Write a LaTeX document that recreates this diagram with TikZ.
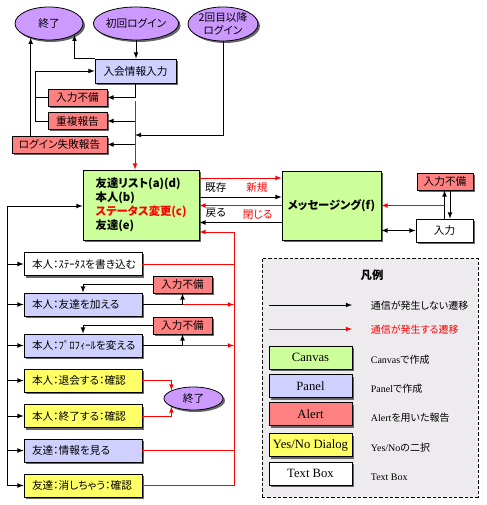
\documentclass[tikz,border=0pt]{standalone}
\usepackage{fontspec}
\setmainfont{Noto Sans CJK JP}[RawFeature=+palt]
\newfontfamily\tms{Liberation Serif}
\usetikzlibrary{shapes.geometric,shadows}
\definecolor{canvasgreen}{HTML}{CCFF99}
\definecolor{panelblue}{HTML}{D0D0FF}
\definecolor{alertred}{HTML}{FF8080}
\definecolor{dialogyellow}{HTML}{FFFF66}
\definecolor{endpurple}{HTML}{CC99FF}
\definecolor{legendgray}{HTML}{EEEBEE}
\begin{document}
\begin{tikzpicture}[x=0.75pt,y=-0.75pt,line width=0.6pt,
    font=\fontsize{8}{9.5}\selectfont,
    shadowed/.style={drop shadow={shadow xshift=1.5pt,shadow yshift=-1.5pt,fill=black!60,opacity=1}},
    basebox/.style={draw,shadowed,inner sep=0pt,minimum height=12.75pt},
    endstate/.style={ellipse,draw,fill=endpurple,shadowed,inner sep=0pt},
    canvas/.style={basebox,fill=canvasgreen},
    panel/.style={basebox,fill=panelblue},
    alert/.style={basebox,fill=alertred},
    dialog/.style={basebox,fill=dialogyellow},
    textbox/.style={basebox,fill=white},
    listbox/.style={minimum height=17.25pt,text width=76.5pt,inner xsep=6pt,align=left},
    legbox/.style={minimum width=62.25pt,minimum height=17.25pt,font=\tms\fontsize{9.5}{10}\selectfont},
    leglabel/.style={anchor=west,font=\fontsize{7.5}{8.5}\selectfont}]
    \tikzset{>=latex}
    \useasboundingbox (0,0) rectangle (486,505);

    \node[endstate,minimum width=51pt,minimum height=24.75pt] (end1) at (49,23.5) {終了};
    \node[endstate,minimum width=54pt,minimum height=24.75pt] (login1) at (136,23.5) {初回ログイン};
    \node[endstate,minimum width=52.5pt,minimum height=25.5pt,align=center] (login2) at (223,24) {2回目以降\\ログイン};
    \node[panel,minimum width=60.75pt,minimum height=18pt] (nyukai) at (135.5,71) {入会情報入力};
    \node[alert,minimum width=44.25pt] (err1) at (77.5,97.5) {入力不備};
    \node[alert,minimum width=44.25pt] (dup) at (77.5,121) {重複報告};
    \node[alert,minimum width=71.25pt] (fail) at (59.5,144.5) {ログイン失敗報告};

    \node[canvas,minimum height=52.5pt,text width=68pt,inner xsep=9.5pt,align=left,
      font=\bfseries\fontsize{8.5}{10.5}\selectfont] (friends) at (141,205)
      {友達リスト(a)(d)\\本人(b)\\\textcolor{red}{ステータス変更(c)}\\友達(e)};
    \node[canvas,minimum width=74.25pt,minimum height=51.75pt,
      font=\bfseries\fontsize{8.5}{10}\selectfont] (msg) at (331.5,205.5) {メッセージング(f)};
    \node[alert,minimum width=42pt] (err4) at (445,181.5) {入力不備};
    \node[textbox,minimum width=42.75pt,minimum height=17.25pt] (input) at (444.5,230.5) {入力};

    \node[textbox,listbox] (b1) at (83,264) {本人：ｽﾃｰﾀｽを書き込む};
    \node[panel,listbox] (b2) at (83,304.5) {本人：友達を加える};
    \node[panel,listbox] (b3) at (83,345.5) {本人：ﾌﾟﾛﾌｨｰﾙを変える};
    \node[dialog,listbox] (b4) at (83,380.5) {本人：退会する：確認};
    \node[dialog,listbox] (b5) at (83,416) {本人：終了する：確認};
    \node[panel,listbox] (b6) at (83,450.5) {友達：情報を見る};
    \node[dialog,listbox] (b7) at (83,485.5) {友達：消しちゃう：確認};
    \node[alert,minimum width=44.25pt] (err2) at (182.5,284.5) {入力不備};
    \node[alert,minimum width=44.25pt] (err3) at (182.5,325.5) {入力不備};
    \node[endstate,minimum width=44.25pt,minimum height=17.25pt] (end2) at (193.5,398.5) {終了};

    \coordinate (rtop) at (135,101);
    \coordinate (rj) at (135,135);
    \coordinate (lbus) at (7,206);
    \coordinate (rbus) at (234,232);

    % login
    \draw[->] (login1.south) -- (login1.south |- nyukai.north);
    \draw[->] (nyukai.north west) -| (end1.-24);
    \draw[->] (err1.west) -- ++(-12,0) |- (nyukai.west);
    \draw (dup.west) -| ([xshift=-9pt]err1.west);
    \draw[->] (fail.north -| end1.-142) -- (end1.-142);
    \draw[->] (nyukai.south) |- (err1.east);
    \draw[->,red] (rtop) -- (rtop |- friends.north);
    \draw[->] (rtop |- dup.east) -- (dup.east);
    \draw[->] (rtop |- fail.east) -- (fail.east);
    \draw[->] (login2.south) |- (rj);

    % friends <-> messaging
    \draw[->,red] ([yshift=20.25pt]friends.east) -- ([yshift=20.25pt]friends.east -| msg.west)
      node[below,pos=0.7] (newlbl) {新規};
    \draw[->] ([yshift=6pt]friends.east) -- ([yshift=6pt]friends.east -| msg.west)
      node[above,pos=0.2] (oldlbl) {既存};
    \draw[->,red] (msg.west) -- (msg.west -| friends.east)
      node[below,pos=0.29] (closelbl) {閉じる};
    \draw[->] ([yshift=-12.75pt]msg.west) -- ([yshift=-12.75pt]msg.west -| friends.east)
      node[above,pos=0.8] (backlbl) {戻る};
    \draw[<->] (input.west -| msg.east) -- (input.west);
    \draw[->] (input.north) -- (input.north |- err4.south);
    \draw[->] ([xshift=3.75pt]err4.south) -- ([xshift=3.75pt]err4.south |- input.north);
    \draw[->,red] (input.north |- msg.east) -- (msg.east);

    % list
    \draw (lbus |- b7.west) -- (lbus);
    \draw[->] (lbus) -- (lbus -| friends.west);
    \foreach \i in {1,...,7}
      \draw[->] (lbus |- b\i.west) -- (b\i.west);
    \draw[->,red] (b7.east) -| (rbus) -- (rbus -| friends.east);
    \draw[red] (b1.east) -- (b1.east -| rbus);
    \draw[red] (b6.east) -- (b6.east -| rbus);
    \foreach \i in {2,3} {
      \draw (b\i.east) -- (b\i.east -| err\i.south);
      \draw[->] (b\i.east -| err\i.south) -- (err\i.south);
      \draw[->,red] (b\i.east -| err\i.south) -- (b\i.east -| rbus);
      \draw[->] (err\i.west) -| (b\i.north);
    }
    \draw[->,red] (b4.east) -| (end2.160);
    \draw[->,red] (b5.east) -| (end2.-160);

    % legend
    \node[draw,dash pattern=on 2.5pt off 1.5pt,fill=legendgray,minimum width=162pt,
      minimum height=179.25pt,inner sep=0pt] (legend) at (370,377.5) {};
    \node[font=\bfseries\fontsize{8.5}{10}\selectfont] (legtitle) at (372,275) {凡例};
    \coordinate (la1) at (269,305);
    \coordinate (lb1) at (352,305);
    \coordinate (la2) at (269,329);
    \coordinate (lb2) at (352,329);
    \draw[->] (la1) -- (lb1);
    \draw[->,red] (la2) -- (lb2);
    \node[leglabel] (legtxt1) at (366,306) {通信が発生しない遷移};
    \node[leglabel,text=red] (legtxt2) at (366,330) {通信が発生する遷移};
    \node[canvas,legbox] (lcanvas) at (310.5,357.5) {Canvas};
    \node[panel,legbox] (lpanel) at (310.5,386) {Panel};
    \node[alert,legbox] (lalert) at (310.5,414) {Alert};
    \node[dialog,legbox] (ldialog) at (310.5,445) {Yes/No Dialog};
    \node[textbox,legbox] (ltext) at (310.5,473.5) {Text Box};
    \node[leglabel] (lcanvastxt) at (366,360) {{\tms Canvas}で作成};
    \node[leglabel] (lpaneltxt) at (366,389) {{\tms Panel}で作成};
    \node[leglabel] (lalerttxt) at (366,418) {{\tms Alert}を用いた報告};
    \node[leglabel] (ldialogtxt) at (366,448) {{\tms Yes/No}の二択};
    \node[leglabel] (ltexttxt) at (366,477) {\tms Text Box};
\end{tikzpicture}
\end{document}
